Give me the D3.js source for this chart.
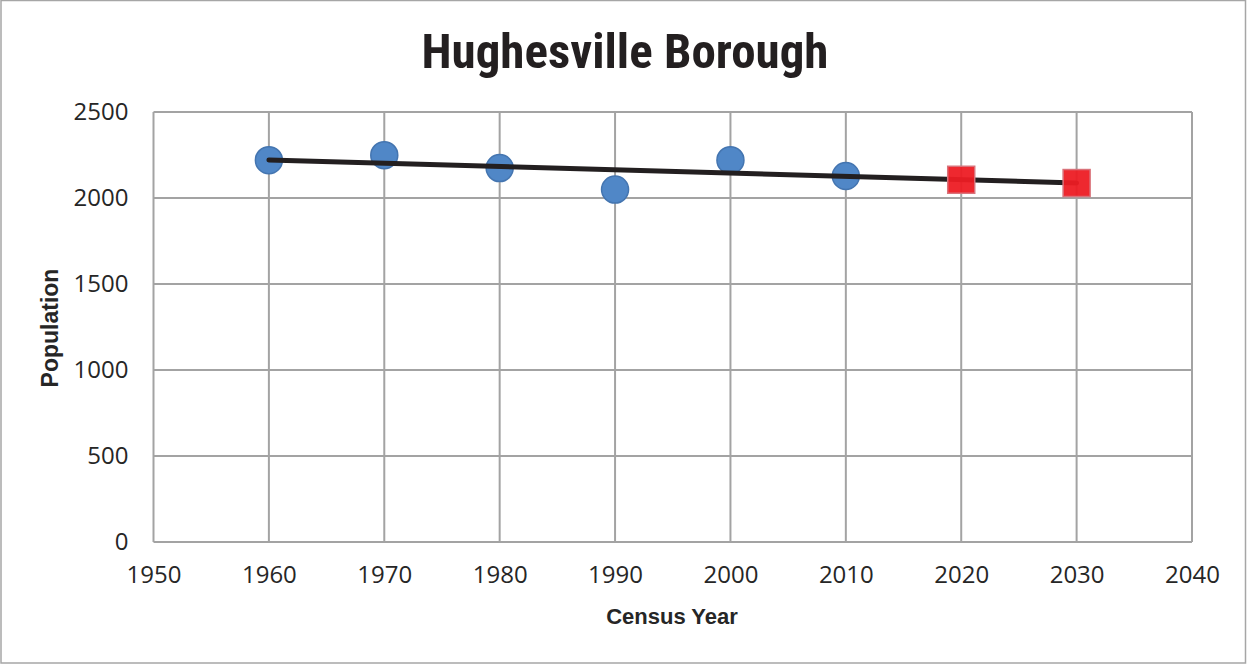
<!DOCTYPE html>
<html>
<head>
<meta charset="utf-8">
<script src="https://cdn.jsdelivr.net/npm/d3@7"></script>
<style>
  body { margin: 0; background: #fff; }
  svg { display: block; }
</style>
</head>
<body>
<script>
const w = 1247;
const h = 665;

// census counts
const censusYears = [1960, 1970, 1980, 1990, 2000, 2010];
const censusPop = [2220, 2249, 2174, 2049, 2220, 2128];
// projections
const projYears = [2020, 2030];
const projPop = [2106, 2087];
// trend line ends
const trendYears = [1960, 2030];
const trendPop = [2221, 2087];

const xTicks = [1950, 1960, 1970, 1980, 1990, 2000, 2010, 2020, 2030, 2040];
const yTicks = [0, 500, 1000, 1500, 2000, 2500];

const margin = {left: 153.5, right: 55, top: 112, bottom: 123};

const svg = d3.select("body")
    .append("svg")
    .attr("width", w)
    .attr("height", h);

svg.append("rect")
    .attr("x", 1).attr("y", 0.5)
    .attr("width", w - 2.5).attr("height", h - 2.5)
    .attr("fill", "#fff")
    .attr("stroke", "#a6a6a6")
    .attr("stroke-width", 1.5);

const xScale = d3.scaleLinear()
    .domain([1950, 2040])
    .range([margin.left, w - margin.right]);

const yScale = d3.scaleLinear()
    .domain([0, 2500])
    .range([h - margin.bottom, margin.top]);

// grid
svg.append("g")
    .selectAll("line")
    .data(xTicks)
    .join("line")
    .attr("x1", d => xScale(d)).attr("x2", d => xScale(d))
    .attr("y1", yScale(0)).attr("y2", yScale(2500))
    .attr("stroke", "#a3a3a3")
    .attr("stroke-width", 2);

svg.append("g")
    .selectAll("line")
    .data(yTicks)
    .join("line")
    .attr("x1", xScale(1950)).attr("x2", xScale(2040))
    .attr("y1", d => yScale(d)).attr("y2", d => yScale(d))
    .attr("stroke", "#a3a3a3")
    .attr("stroke-width", 2);

// axes (labels only)
const xAxis = d3.axisBottom(xScale).tickValues(xTicks).tickSize(0).tickPadding(24).tickFormat(d3.format("d"));
const yAxis = d3.axisLeft(yScale).tickValues(yTicks).tickSize(0).tickPadding(25).tickFormat(d3.format("d"));

const gx = svg.append("g")
    .attr("transform", "translate(0," + yScale(0) + ")")
    .call(xAxis);
const gy = svg.append("g")
    .attr("transform", "translate(" + xScale(1950) + ",0)")
    .call(yAxis);

[gx, gy].forEach(g => {
    g.select(".domain").remove();
    g.selectAll("text")
        .attr("fill", "#262626")
        .style("font-family", "'Open Sans', sans-serif")
        .style("font-size", "24px");
});

// trend line
const line = d3.line()
    .x(d => xScale(d[0]))
    .y(d => yScale(d[1]));

// census points
svg.append("g")
    .selectAll("circle")
    .data(d3.zip(censusYears, censusPop))
    .join("circle")
    .attr("cx", d => xScale(d[0]))
    .attr("cy", d => yScale(d[1]))
    .attr("r", 13.5)
    .attr("fill", "#5087c7")
    .attr("stroke", "#4475b0")
    .attr("stroke-width", 1.5);

svg.append("path")
    .datum(d3.zip(trendYears, trendPop))
    .attr("d", line)
    .attr("fill", "none")
    .attr("stroke", "#231f20")
    .attr("stroke-width", 5)
    .attr("stroke-linecap", "round");

// projections
const sq = 27;
svg.append("g")
    .selectAll("rect")
    .data(d3.zip(projYears, projPop))
    .join("rect")
    .attr("x", d => xScale(d[0]) - sq / 2)
    .attr("y", d => yScale(d[1]) - sq / 2)
    .attr("width", sq)
    .attr("height", sq)
    .attr("fill", "#ed1c24")
    .attr("fill-opacity", 0.95)
    .attr("stroke", "#d9727a")
    .attr("stroke-width", 1.5);

// title
svg.append("text")
    .attr("x", 625)
    .attr("y", 68)
    .attr("text-anchor", "middle")
    .attr("fill", "#231f20")
    .style("font-family", "'Liberation Sans Narrow', 'Roboto Condensed', sans-serif")
    .style("font-weight", "bold")
    .style("font-size", "49px")
    .text("Hughesville Borough");

svg.append("text")
    .attr("x", 672)
    .attr("y", 624)
    .attr("text-anchor", "middle")
    .attr("fill", "#262626")
    .style("font-family", "'Liberation Sans Narrow', sans-serif")
    .style("font-weight", "bold")
    .style("font-size", "22px")
    .text("Census Year");

svg.append("text")
    .attr("transform", "translate(58," + 328 + ") rotate(-90)")
    .attr("text-anchor", "middle")
    .attr("fill", "#262626")
    .style("font-family", "'Liberation Sans Narrow', sans-serif")
    .style("font-weight", "bold")
    .style("font-size", "23px")
    .text("Population");
</script>
</body>
</html>
